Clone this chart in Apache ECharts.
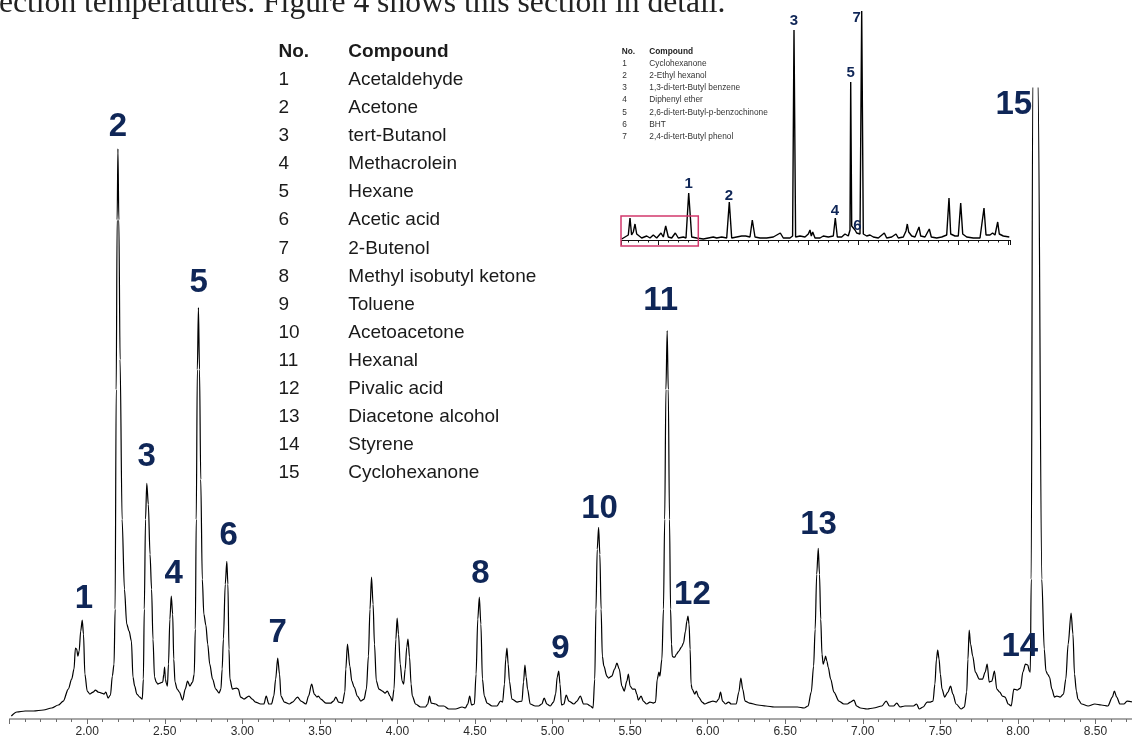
<!DOCTYPE html>
<html>
<head>
<meta charset="utf-8">
<style>
  html, body { margin: 0; padding: 0; background: #ffffff; width: 1132px; height: 738px; overflow: hidden; }
  #chart { width: 1176px; height: 738px; }
</style>
<script src="https://cdn.jsdelivr.net/npm/echarts@6/dist/echarts.min.js"></script>
</head>
<body>
<div id="chart"></div>
<script>
// ---------------- DATA ----------------
// Main chromatogram: retention time (min) and detector response (arbitrary units)
const mainTimes = [
  1.511,1.547,1.600,1.654,1.718,1.771,1.814,1.846,1.878,1.900,1.915,1.924,1.932,1.940,1.948,1.958,1.968,1.976,1.985,
  2.000,2.017,2.038,2.053,2.071,2.092,2.109,2.120,2.135,2.150,2.162,2.173,2.180,2.187,2.193,2.198,2.204,2.212,2.225,
  2.240,2.255,2.270,2.285,2.295,2.306,2.320,2.338,2.355,2.362,2.368,2.376,2.384,2.394,2.405,2.415,2.424,2.434,2.445,
  2.455,2.470,2.487,2.494,2.499,2.504,2.510,2.517,2.524,2.533,2.542,2.551,2.558,2.566,2.580,2.594,2.615,2.632,2.647,
  2.662,2.679,2.690,2.697,2.703,2.710,2.717,2.724,2.732,2.742,2.752,2.765,2.777,2.790,2.808,2.829,2.850,2.862,2.870,
  2.878,2.890,2.900,2.907,2.914,2.920,2.936,2.962,2.974,2.989,3.011,3.043,3.064,3.085,3.118,3.139,3.154,3.171,3.188,
  3.203,3.215,3.228,3.240,3.249,3.271,3.303,3.324,3.356,3.378,3.410,3.427,3.447,3.464,3.481,3.490,3.506,3.539,3.571,
  3.588,3.603,3.620,3.646,3.661,3.667,3.678,3.693,3.706,3.721,3.742,3.764,3.785,3.800,3.813,3.823,3.833,3.843,3.852,
  3.864,3.881,3.903,3.920,3.935,3.952,3.967,3.978,3.990,3.998,4.007,4.018,4.030,4.040,4.050,4.060,4.068,4.078,4.088,
  4.096,4.117,4.149,4.181,4.195,4.207,4.218,4.246,4.267,4.299,4.331,4.374,4.417,4.438,4.453,4.466,4.478,4.496,4.507,
  4.518,4.528,4.538,4.548,4.560,4.578,4.610,4.642,4.664,4.678,4.690,4.698,4.706,4.714,4.722,4.738,4.771,4.803,4.813,
  4.822,4.830,4.839,4.856,4.888,4.910,4.931,4.946,4.963,4.985,5.006,5.020,5.030,5.040,5.048,5.058,5.073,5.088,5.105,
  5.137,5.158,5.179,5.200,5.222,5.244,5.261,5.272,5.280,5.288,5.297,5.305,5.313,5.321,5.331,5.350,5.361,5.382,5.400,
  5.415,5.430,5.447,5.462,5.479,5.489,5.500,5.515,5.532,5.543,5.553,5.571,5.585,5.607,5.628,5.650,5.664,5.675,5.686,
  5.692,5.705,5.715,5.723,5.731,5.739,5.746,5.754,5.761,5.767,5.772,5.779,5.788,5.799,5.814,5.831,5.844,5.857,5.866,
  5.873,5.880,5.887,5.893,5.900,5.917,5.927,5.942,5.964,5.981,6.013,6.034,6.056,6.071,6.083,6.096,6.115,6.135,6.152,
  6.184,6.201,6.214,6.226,6.241,6.269,6.323,6.376,6.429,6.494,6.536,6.579,6.622,6.647,6.668,6.683,6.693,6.703,6.713,
  6.721,6.729,6.737,6.745,6.752,6.760,6.769,6.777,6.793,6.814,6.846,6.878,6.900,6.921,6.943,6.960,6.985,7.028,7.070,
  7.123,7.151,7.172,7.198,7.219,7.240,7.272,7.304,7.326,7.347,7.364,7.389,7.415,7.436,7.453,7.465,7.475,7.483,7.492,
  7.500,7.511,7.528,7.549,7.566,7.581,7.602,7.634,7.655,7.670,7.678,7.686,7.695,7.709,7.726,7.751,7.772,7.789,7.802,
  7.815,7.832,7.849,7.864,7.883,7.900,7.917,7.938,7.957,7.974,7.996,8.017,8.032,8.049,8.064,8.074,8.080,8.086,8.096,
  8.113,8.130,8.154,8.170,8.181,8.191,8.204,8.219,8.236,8.251,8.272,8.294,8.309,8.324,8.343,8.355,8.365,8.377,8.387,
  8.411,8.453,8.496,8.538,8.580,8.609,8.622,8.637,8.658,8.683,8.704,8.740
];
const mainValues = [
  3,7,8,8,9,11,14,18,30,40,50,71,70,63,68,88,99,85,45,
  28,25,27,29,27,26,25,27,21,24,43,55,110,330,500,571,500,360,200,
  130,95,88,78,42,33,25,22,20,40,110,200,236,215,165,130,80,42,37,
  35,36,37,45,52,40,36,33,55,100,123,105,60,37,30,27,19,30,38,
  33,37,45,90,200,350,412,350,240,140,105,94,75,55,40,30,26,30,50,
  80,135,158,135,70,40,30,31,30,22,20,23,20,17,15,15,23,15,15,
  23,40,61,45,23,17,15,17,22,18,15,23,35,25,22,23,20,16,16,
  18,22,17,16,27,50,75,53,38,32,23,18,20,30,63,110,142,115,75,
  38,30,28,26,28,23,18,30,80,101,85,55,38,35,50,72,80,62,35,
  23,15,12,12,15,23,16,15,13,13,10,10,12,11,15,23,14,15,45,
  100,122,95,40,23,16,13,13,18,17,35,60,71,55,38,20,17,18,37,
  54,42,30,15,13,13,15,21,15,13,17,25,42,48,35,14,15,24,18,
  15,18,23,15,15,13,11,40,110,170,192,165,110,63,53,43,41,43,50,
  56,50,33,28,38,45,33,30,30,25,19,23,18,15,17,16,17,40,47,
  43,60,110,200,330,389,330,200,110,75,63,62,62,65,68,72,76,88,98,
  103,95,70,35,30,25,28,22,17,15,17,18,17,20,27,18,15,17,15,
  15,27,41,30,18,16,14,13,12,12,12,12,11,13,27,53,90,145,171,
  145,100,65,55,58,63,58,52,40,27,18,15,15,17,19,13,11,10,11,
  13,18,13,13,16,12,13,13,13,15,10,12,17,17,18,35,60,69,60,
  45,30,22,27,33,25,15,10,12,27,60,89,75,63,47,40,40,47,55,
  37,38,48,30,27,23,22,15,13,30,29,31,47,55,54,48,47,140,640,
  760,640,140,70,48,45,42,30,22,23,22,25,40,75,106,85,45,28,20,
  15,13,15,14,13,22,28,22,15,15,18,17
];
// Peak numbers and where they are written (time, response)
const peakNames  = ['1','2','3','4','5','6','7','8','9','10','11','12','13','14','15'];
const peakLabelT = [1.979,2.198,2.384,2.558,2.719,2.912,3.228,4.535,5.050,5.303,5.697,5.902,6.715,8.012,7.974];
const peakLabelV = [120,593,263,145,437,183,86,145,70,210,419,124,194,72,615];
// Main x-axis ticks
const mainTimeRange = [1.5, 9.0];
const mainTickStep = 0.5;
// Compound table
const compoundNos = ['1','2','3','4','5','6','7','8','9','10','11','12','13','14','15'];
const compoundNames = ['Acetaldehyde','Acetone','tert-Butanol','Methacrolein','Hexane','Acetic acid','2-Butenol',
  'Methyl isobutyl ketone','Toluene','Acetoacetone','Hexanal','Pivalic acid','Diacetone alcohol','Styrene','Cyclohexanone'];

// Inset: full run overview
const insetTimes = [
  1.34,1.67,2.00,2.17,2.33,2.50,2.67,2.84,3.00,3.34,3.84,4.17,4.50,4.84,5.27,5.50,5.74,6.00,6.34,6.70,7.00,7.50,7.77,
  8.04,8.34,8.84,9.50,10.50,10.84,11.34,11.84,12.10,12.34,12.84,13.34,13.74,14.17,14.40,14.67,15.17,15.84,16.50,
  17.20,17.50,18.17,18.43,18.57,18.73,19.17,19.34,19.67,20.00,20.17,20.30,20.44,20.67,21.17,21.50,22.00,22.50,22.70,
  22.90,23.34,23.67,24.00,24.17,24.24,24.34,24.50,24.67,24.84,25.00,25.17,25.34,25.50,25.84,26.17,26.50,27.00,27.60,
  27.84,28.34,28.77,29.00,29.50,29.77,29.90,30.04,30.34,30.67,31.07,31.24,31.67,32.10,32.30,32.84,33.34,33.84,34.07,
  34.24,34.67,35.00,35.24,35.44,35.84,36.50,37.17,37.57,37.77,38.17,38.43,38.67,38.94,39.10,39.50,40.10
];
const insetValues = [
  1,3,5,22,5,8,16,6,4,2,4,2,5,2,7,3,14,3,2,7,2,3,2,
  47,3,2,1,3,2,3,2,38,2,3,4,4,3,20,3,2,2,3,
  7,2,2,4,210,3,4,6,3,6,10,4,8,2,2,4,3,4,22,
  3,3,6,4,10,158,14,13,10,7,5,6,229,6,4,5,3,2,7,
  2,3,6,2,3,9,16,8,4,3,13,4,3,11,3,2,3,5,42,
  6,4,4,37,6,3,2,2,32,5,5,7,5,18,6,4,3
];
const insetPeakNames = ['1','2','3','4','5','6','7'];
const insetLabelT = [8.04,12.07,18.57,22.67,24.24,24.90,24.84];
const insetLabelV = [56,44,219,29,167,14,222];
const insetCompounds = ['Cyclohexanone','2-Ethyl hexanol','1,3-di-tert-Butyl benzene','Diphenyl ether',
  '2,6-di-tert-Butyl-p-benzochinone','BHT','2,4-di-tert-Butyl phenol'];
const insetTimeRange = [1.3, 40.2];
// Highlighted window of the inset (time, response)
const boxTimes = [1.27, 9.0];
const boxValues = [-6, 24];

const bodyText = 'ection temperatures. Figure 4 shows this section in detail.';

// ---------------- CHART ----------------
const SANS = '"Liberation Sans", Arial, Helvetica, sans-serif';
const NAVY = '#0f2657';
const chart = echarts.init(document.getElementById('chart'), null, {renderer: 'canvas'});

const mainData = mainTimes.map((t, i) => [t, mainValues[i]]);
const labelData = peakNames.map((n, i) => ({name: n, value: [peakLabelT[i], peakLabelV[i]]}));
const insetData = insetTimes.map((t, i) => [t, insetValues[i]]);
const insetLabelData = insetPeakNames.map((n, i) => ({name: n, value: [insetLabelT[i], insetLabelV[i]]}));

const graphics = [];
graphics.push({type: 'text', x: -1, y: 3.6, silent: true,
  style: {text: bodyText, font: '31.6px "Liberation Serif", "Times New Roman", serif', fill: '#222',
    verticalAlign: 'middle'}});
// Main compound table
graphics.push({type: 'text', x: 278.5, y: 51.7, silent: true,
  style: {text: 'No.', font: 'bold 19px ' + SANS, fill: '#1a1a1a', verticalAlign: 'middle'}});
graphics.push({type: 'text', x: 348.3, y: 51.7, silent: true,
  style: {text: 'Compound', font: 'bold 19px ' + SANS, fill: '#1a1a1a', verticalAlign: 'middle'}});
compoundNos.forEach((n, i) => {
  const y = 80 + 28.05 * i;
  graphics.push({type: 'text', x: 278.5, y: y, silent: true,
    style: {text: n, font: '19px ' + SANS, fill: '#1a1a1a', verticalAlign: 'middle'}});
  graphics.push({type: 'text', x: 348.3, y: y, silent: true,
    style: {text: compoundNames[i], font: '19px ' + SANS, fill: '#1a1a1a', verticalAlign: 'middle'}});
});
// Inset table
graphics.push({type: 'text', x: 621.7, y: 51.7, silent: true,
  style: {text: 'No.', font: 'bold 8.3px ' + SANS, fill: '#222', verticalAlign: 'middle'}});
graphics.push({type: 'text', x: 649.3, y: 51.7, silent: true,
  style: {text: 'Compound', font: 'bold 8.3px ' + SANS, fill: '#222', verticalAlign: 'middle'}});
insetCompounds.forEach((c, i) => {
  const y = 63.5 + 12.2 * i;
  graphics.push({type: 'text', x: 622.3, y: y, silent: true,
    style: {text: String(i + 1), font: '8.3px ' + SANS, fill: '#333', verticalAlign: 'middle'}});
  graphics.push({type: 'text', x: 649.3, y: y, silent: true,
    style: {text: c, font: '8.3px ' + SANS, fill: '#333', verticalAlign: 'middle'}});
});

const labelStyle = (size) => ({
  show: true, position: 'inside', formatter: '{b}', fontSize: size, fontWeight: 'bold',
  color: NAVY, fontFamily: SANS, opacity: 1, textBorderWidth: 0, textShadowBlur: 0
});

const option = {
  animation: false,
  backgroundColor: '#ffffff',
  grid: [
    {left: 9.65, top: 88, width: 1164.75, bottom: 18, containLabel: false},
    {left: 621.3, top: 10, width: 389, height: 230, containLabel: false}
  ],
  xAxis: [
    {
      type: 'value', gridIndex: 0,
      min: mainTimeRange[0], max: mainTimeRange[1], interval: mainTickStep,
      splitLine: {show: false},
      axisLine: {show: true, onZero: false, lineStyle: {color: '#8a8a8a', width: 1.6}},
      axisTick: {show: true, length: 5, lineStyle: {color: '#6e6e6e', width: 1}},
      minorTick: {show: true, splitNumber: 5, length: 3, lineStyle: {color: '#6e6e6e', width: 1}},
      axisLabel: {
        show: true, margin: 7, fontSize: 12, color: '#2a2a2a', fontFamily: SANS,
        formatter: function (v) {
          const k = v / mainTickStep;
          if (Math.abs(k - Math.round(k)) > 1e-6 || v < 1.99 || v > 8.51) return '';
          return v.toFixed(2);
        }
      }
    },
    {
      type: 'value', gridIndex: 1,
      min: insetTimeRange[0], max: insetTimeRange[1], splitNumber: 8,
      splitLine: {show: false},
      axisLine: {show: true, onZero: false, lineStyle: {color: '#111', width: 1}},
      axisTick: {show: true, length: 5, lineStyle: {color: '#111', width: 1}},
      minorTick: {show: true, splitNumber: 5, length: 2.5, lineStyle: {color: '#111', width: 1}},
      axisLabel: {show: false}
    }
  ],
  yAxis: [
    {type: 'value', gridIndex: 0, min: 0, max: 632, show: false, splitLine: {show: false}},
    {type: 'value', gridIndex: 1, min: 0, max: 230, show: false, splitLine: {show: false}}
  ],
  series: [
    {
      type: 'line', xAxisIndex: 0, yAxisIndex: 0, data: mainData,
      showSymbol: false, smooth: 0.3, smoothMonotone: 'x', clip: true,
      lineStyle: {color: '#000000', width: 1.2}, z: 3, silent: true
    },
    {
      type: 'scatter', xAxisIndex: 0, yAxisIndex: 0, data: labelData,
      symbolSize: 0, itemStyle: {color: NAVY, opacity: 1}, silent: true, z: 5,
      label: labelStyle(33), emphasis: {disabled: true}
    },
    {
      type: 'line', xAxisIndex: 1, yAxisIndex: 1, data: insetData,
      showSymbol: false, smooth: false, clip: true,
      lineStyle: {color: '#000000', width: 1.4}, z: 3, silent: true
    },
    {
      type: 'scatter', xAxisIndex: 1, yAxisIndex: 1, data: insetLabelData,
      symbolSize: 0, itemStyle: {color: NAVY, opacity: 1}, silent: true, z: 5,
      label: labelStyle(15), emphasis: {disabled: true}
    }
  ],
  graphic: {elements: graphics}
};
chart.setOption(option);

// Highlight box in the inset, placed through the inset's own scales
const pA = chart.convertToPixel({gridIndex: 1}, [boxTimes[0], boxValues[1]]);
const pB = chart.convertToPixel({gridIndex: 1}, [boxTimes[1], boxValues[0]]);
chart.setOption({graphic: {elements: [{
  id: 'insetBox', type: 'rect', silent: true, z: 10,
  shape: {x: pA[0], y: pA[1], width: pB[0] - pA[0], height: pB[1] - pA[1]},
  style: {fill: 'none', stroke: '#d2386c', lineWidth: 1.5}
}]}});
</script>
</body>
</html>
